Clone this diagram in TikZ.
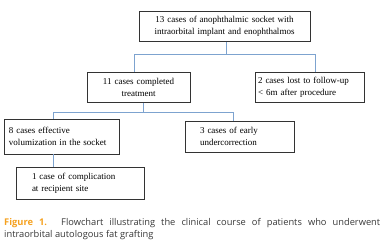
\documentclass[tikz,border=0pt]{standalone}
\usepackage{fontspec}
\setmainfont{Liberation Serif}
\newfontfamily\capfont{Open Sans}
\usepackage{xcolor}
\definecolor{linkblue}{rgb}{0.49,0.64,0.81}
\definecolor{figorange}{rgb}{0.96,0.63,0.12}
\definecolor{captext}{rgb}{0.22,0.22,0.22}
\usepackage{tikz}
\usetikzlibrary{positioning, calc}

\begin{document}
\begin{tikzpicture}[
  x=1pt, y=-1pt,
  stage/.style={draw=black!80, line width=0.7pt, rectangle, inner sep=0pt, align=left,
    font=\fontsize{9}{11.5}\selectfont},
  link/.style={draw=linkblue, line width=0.7pt},
]
\useasboundingbox (0,0) rectangle (385,250);

% Top level
\node[stage, align=center, minimum width=171, minimum height=30, text width=165] (all) at (224.5,26.5)
  {13 cases of anophthalmic socket with\\intraorbital implant and enophthalmos};

% Second level
\node[stage, align=center, minimum width=103, minimum height=30, text width=97] (done) at (138.5,87.5)
  {11 cases completed\\treatment};
\node[stage, minimum width=109, minimum height=30, text width=103] (lost) at (309.5,87.5)
  {2 cases lost to follow-up\\< 6m after procedure};

% Third level
\node[stage, minimum width=115, minimum height=35, text width=105] (good) at (61.5,136.5)
  {8 cases effective\\volumization in the socket};
\node[stage, minimum width=109, minimum height=31, text width=79] (under) at (239.5,136.5)
  {3 cases of early\\undercorrection};

% Fourth level
\node[stage, minimum width=128, minimum height=32, text width=96] (compl) at (80,183.5)
  {1 case of complication\\at recipient site};

% Connectors
\draw[link] ([xshift=1.5]all.south) |- (134,54) -- ([xshift=-4.5]done.north);
\draw[link] ([xshift=1.5]all.south) |- (315,54) -- ([xshift=5.5]lost.north);
\draw[link] ([xshift=4.5]done.south) |- (53,112) -- ([xshift=-8.5]good.north);
\draw[link] ([xshift=4.5]done.south) |- (233,112) -- ([xshift=-6.5]under.north);
\draw[link] ([xshift=-8.5]good.south) -- ([xshift=-27]compl.north);

% Caption
\node[anchor=north west, inner sep=0pt, text width=376, align=justify,
  font=\capfont\fontsize{9.3}{12}\selectfont, text=captext] (cap) at (4,218)
  {{\color{figorange}\bfseries Figure 1.} Flowchart illustrating the clinical course of patients who underwent\linebreak intraorbital autologous fat grafting};
\end{tikzpicture}
\end{document}
